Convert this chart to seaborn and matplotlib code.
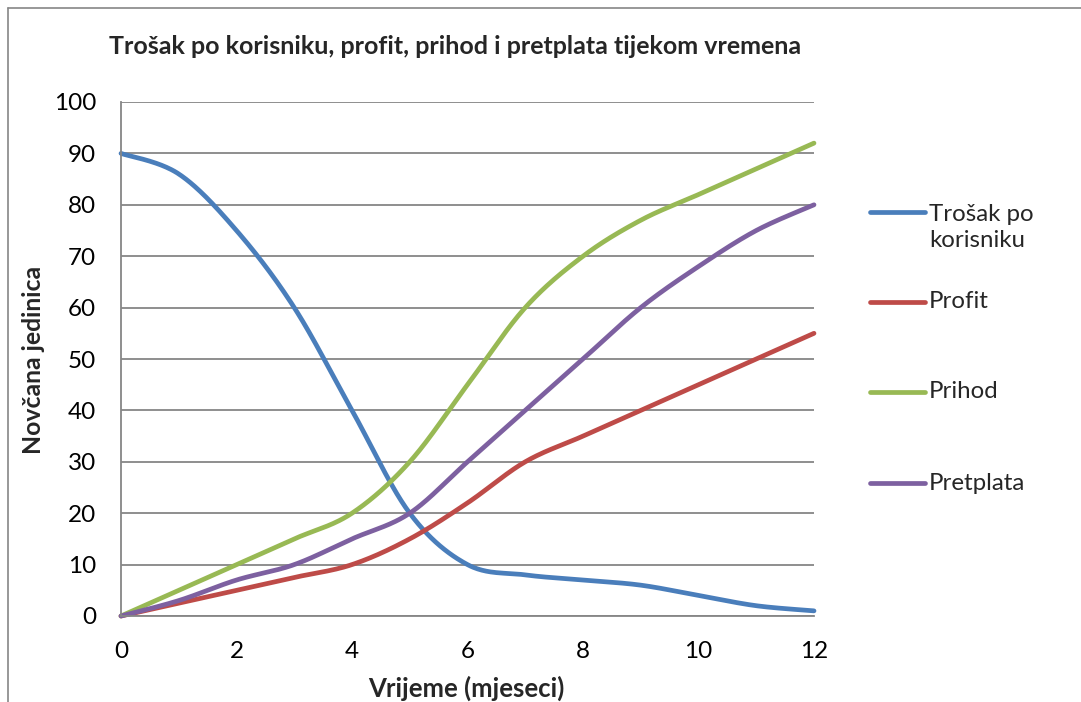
import numpy as np
import pandas as pd
import matplotlib
matplotlib.use("Agg")
import matplotlib.pyplot as plt
import seaborn as sns
from matplotlib.lines import Line2D

# ---------------- data ----------------
months = [0, 1, 2, 3, 4, 5, 6, 7, 8, 9, 10, 11, 12]
trosak = [90, 86, 75, 60, 40, 20, 10, 8, 7, 6, 4, 2, 1]
profit = [0, 2.5, 5, 7.5, 10, 15, 22, 30, 35, 40, 45, 50, 55]
prihod = [0, 5, 10, 15, 20, 30, 45, 60, 70, 77, 82, 87, 92]
pretplata = [0, 3, 7, 10, 15, 20, 30, 40, 50, 60, 68, 75, 80]

series_names = ["Trošak po korisniku", "Profit", "Prihod", "Pretplata"]
legend_labels = ["Trošak po\nkorisniku", "Profit", "Prihod", "Pretplata"]
colors = ["#4A7EBB", "#BE4B48", "#98B954", "#7D60A0"]

title = "Trošak po korisniku, profit, prihod i pretplata tijekom vremena"
xlabel = "Vrijeme (mjeseci)"
ylabel = "Novčana jedinica"
xticks = [0, 2, 4, 6, 8, 10, 12]
yticks = [0, 10, 20, 30, 40, 50, 60, 70, 80, 90, 100]


def smooth(x, y, n=40):
    """Excel-style smoothed line (Bezier with Catmull-Rom control points)."""
    x = np.asarray(x, float)
    y = np.asarray(y, float)
    px = np.concatenate([[x[0]], x, [x[-1]]])
    py = np.concatenate([[y[0]], y, [y[-1]]])
    xs, ys = [], []
    t = np.linspace(0, 1, n, endpoint=False)
    for i in range(1, len(px) - 2):
        p0 = np.array([px[i], py[i]])
        p3 = np.array([px[i + 1], py[i + 1]])
        c1 = p0 + (p3 - np.array([px[i - 1], py[i - 1]])) / 6.0
        c2 = p3 - (np.array([px[i + 2], py[i + 2]]) - p0) / 6.0
        b = ((1 - t) ** 3)[:, None] * p0 + (3 * (1 - t) ** 2 * t)[:, None] * c1 \
            + (3 * (1 - t) * t ** 2)[:, None] * c2 + (t ** 3)[:, None] * p3
        xs.append(b[:, 0])
        ys.append(b[:, 1])
    xs.append([x[-1]])
    ys.append([y[-1]])
    return np.concatenate(xs), np.concatenate(ys)


frames = []
for name, vals in zip(series_names, [trosak, profit, prihod, pretplata]):
    sx, sy = smooth(months, vals)
    frames.append(pd.DataFrame({"x": sx, "y": sy, "serija": name,
                                "order": np.arange(len(sx))}))
df = pd.concat(frames, ignore_index=True)

# ---------------- style ----------------
sns.set_style("white")
plt.rcParams["font.family"] = ["Lato", "DejaVu Sans"]

fig = plt.figure(figsize=(10.81, 7.02), dpi=100)
ax = fig.add_axes([121 / 1081, 1 - 616 / 702, 693 / 1081, 514 / 702])

sns.lineplot(data=df, x="x", y="y", hue="serija", hue_order=series_names,
             palette=colors, sort=False, estimator=None, units="serija",
             linewidth=3.4, legend=False, ax=ax)
for ln in ax.lines:
    ln.set_clip_on(False)
    ln.set_solid_capstyle("round")

ax.set_xlim(0, 12)
ax.set_ylim(0, 100)
ax.set_xticks(xticks)
ax.set_yticks(yticks)
ax.tick_params(axis="both", length=0, labelsize=17.5, colors="black")
ax.tick_params(axis="y", pad=18)
ax.tick_params(axis="x", pad=18)
ax.yaxis.grid(True, color="#868686", linewidth=1.3)
ax.xaxis.grid(False)
ax.set_axisbelow(True)
for s in ["top", "right"]:
    ax.spines[s].set_visible(False)
for s in ["left", "bottom"]:
    ax.spines[s].set_color("#868686")
    ax.spines[s].set_linewidth(1.3)

ax.set_xlabel(xlabel, fontsize=18.5, fontweight="bold")
ax.set_ylabel(ylabel, fontsize=17.8, fontweight="bold")
ax.xaxis.set_label_coords(0.499, -0.116)
ax.yaxis.set_label_coords(-0.110, 0.498)

fig.text(455 / 1081, 1 - 47 / 702, title, ha="center", va="center",
         fontsize=18, fontweight="bold")

# chart border (left and top edges visible)
fig.add_artist(Line2D([8 / 1081, 8 / 1081], [0, 1 - 8 / 702],
                      transform=fig.transFigure, color="#868686", lw=1.2))
fig.add_artist(Line2D([8 / 1081, 1], [1 - 8 / 702, 1 - 8 / 702],
                      transform=fig.transFigure, color="#868686", lw=1.2))

# legend
leg_y = [212, 302, 392, 483]
for lab, col, yy in zip(legend_labels, colors, leg_y):
    fig.add_artist(Line2D([870 / 1081, 925 / 1081], [1 - yy / 702, 1 - yy / 702],
                          transform=fig.transFigure, color=col, lw=3.4,
                          solid_capstyle="round"))
    if "\n" in lab:
        fig.text(929 / 1081, 1 - (yy + 15.5) / 702, lab, ha="left", va="center",
                 fontsize=17.3, linespacing=1.3)
    else:
        fig.text(929 / 1081, 1 - yy / 702, lab, ha="left", va="center",
                 fontsize=17.3)

fig.savefig("out.png", dpi=100)
